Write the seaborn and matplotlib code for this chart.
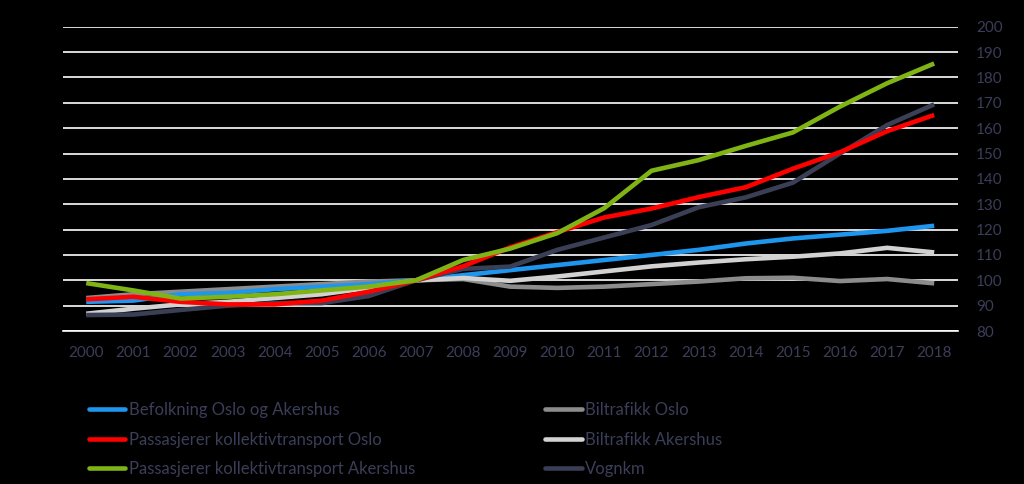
import matplotlib
matplotlib.use("Agg")
import matplotlib.pyplot as plt
from matplotlib.ticker import FixedLocator
import seaborn as sns
import pandas as pd

YEARS = list(range(2000, 2019))

befolkning = [91.5, 92, 94.5, 95, 96.5, 97.5, 98.5, 100, 102, 104, 106, 108, 110,
              112, 114.5, 116.5, 118, 119.5, 121.5]
biltrafikk_oslo = [93, 94.5, 95.5, 96.5, 97.5, 98.5, 99.5, 100, 100.5, 97.5, 97, 97.5,
                   98.5, 99.5, 100.8, 101, 99.7, 100.5, 98.8]
pass_oslo = [92.5, 93.5, 91.5, 90.5, 90.5, 92, 95.5, 100, 105.5, 113, 119, 124.8, 128.3,
             132.8, 136.7, 144, 150.5, 158.8, 165.2]
biltrafikk_akershus = [86.8, 88.8, 90.5, 91.5, 93, 94.5, 97, 100, 100.9, 99.8, 101.5,
                       103.5, 105.5, 107, 108.3, 109.3, 110.6, 112.8, 111]
pass_akershus = [98.9, 96, 92.8, 93.5, 94.5, 96, 97.5, 100, 108, 112.5, 118.6, 128.5,
                 143.2, 147.4, 153, 158.3, 168.5, 177.7, 185.5]
vognkm = [86.3, 86.5, 88.3, 90, 91, 91, 93.8, 100, 104.5, 105.4, 112, 116.9, 121.8,
          128.8, 132.7, 138.5, 150, 161.2, 169.4]

SERIES = {
    "Befolkning Oslo og Akershus": befolkning,
    "Passasjerer kollektivtransport Oslo": pass_oslo,
    "Passasjerer kollektivtransport Akershus": pass_akershus,
    "Biltrafikk Oslo": biltrafikk_oslo,
    "Biltrafikk Akershus": biltrafikk_akershus,
    "Vognkm": vognkm,
}
PALETTE = {
    "Befolkning Oslo og Akershus": "#1E96EE",
    "Passasjerer kollektivtransport Oslo": "#FF0000",
    "Passasjerer kollektivtransport Akershus": "#7FB414",
    "Biltrafikk Oslo": "#8C8C8C",
    "Biltrafikk Akershus": "#D2D2D2",
    "Vognkm": "#3B3F55",
}
# draw order (back to front)
DRAW_ORDER = ["Biltrafikk Oslo", "Befolkning Oslo og Akershus", "Biltrafikk Akershus",
              "Vognkm", "Passasjerer kollektivtransport Oslo",
              "Passasjerer kollektivtransport Akershus"]

TEXT = "#3B3E58"
BG = "#000000"

sns.set_style("white")
plt.rcParams["font.family"] = ["Lato", "DejaVu Sans"]

df = pd.DataFrame(
    [(y, name, v) for name, vals in SERIES.items() for y, v in zip(YEARS, vals)],
    columns=["year", "serie", "value"],
)

fig = plt.figure(figsize=(10.24, 4.84), dpi=100, facecolor=BG)
ax = fig.add_axes([0.0612, 0.3161, 0.8741, 0.6287])
ax.set_facecolor(BG)

for name in DRAW_ORDER:
    sns.lineplot(data=df[df["serie"] == name], x="year", y="value", color=PALETTE[name],
                 linewidth=3.3, ax=ax, legend=False, solid_capstyle="butt")

ax.set_xlim(1999.5, 2018.5)
ax.set_ylim(80, 200)
ax.set_yticks(range(80, 201, 10))
ax.yaxis.tick_right()
ax.grid(axis="y", color="white", linewidth=1.2)
ax.set_axisbelow(True)
ax.set_xticks(YEARS)
ax.xaxis.set_minor_locator(FixedLocator([y - 0.5 for y in YEARS] + [2018.5]))
ax.tick_params(axis="x", which="major", length=0, pad=11, labelsize=11, labelcolor=TEXT)
ax.tick_params(axis="x", which="minor", length=5, width=1.2, color="white", direction="out")
ax.tick_params(axis="y", length=0, pad=13, labelsize=11, labelcolor=TEXT)
ax.set_xlabel("")
ax.set_ylabel("")
for s in ["top", "left", "right"]:
    ax.spines[s].set_visible(False)
ax.spines["bottom"].set_color("white")
ax.spines["bottom"].set_linewidth(1.2)

handles = [plt.Line2D([], [], color=PALETTE[n], linewidth=3.3) for n in SERIES]
leg = fig.legend(handles, list(SERIES.keys()), ncol=2, loc="upper left",
                 bbox_to_anchor=(0.072, 0.2), frameon=False, fontsize=12,
                 labelcolor=TEXT, handlelength=2.2, handletextpad=0.2,
                 columnspacing=7.8, labelspacing=0.8)

fig.savefig("out.png", dpi=100, facecolor=BG)
